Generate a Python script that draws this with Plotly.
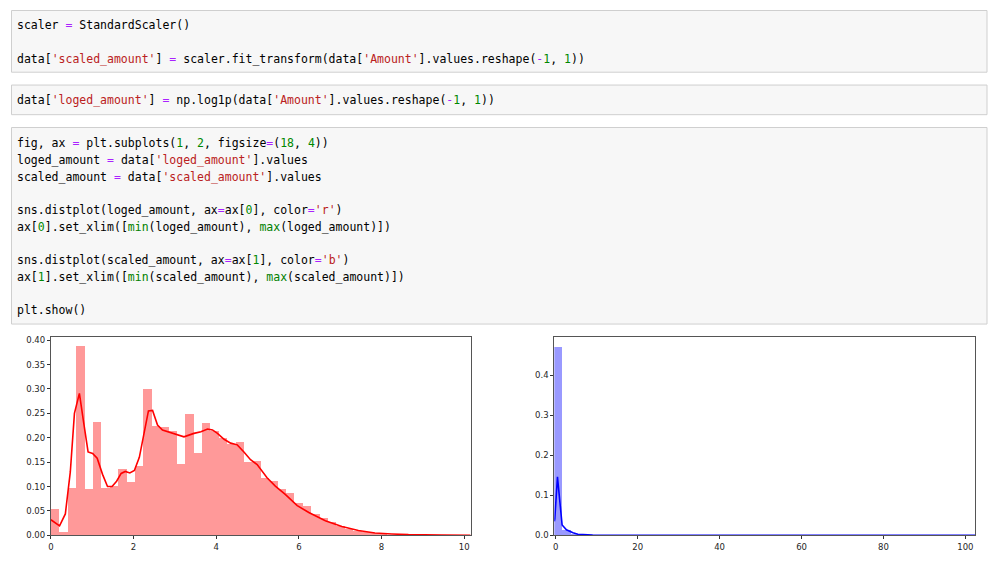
import numpy as np
import plotly.graph_objects as go

# The page body has an 8px margin, so the figure is sized to fit the window inside it.
OFF = 8
W, H = 997 - 2 * OFF, 579 - 2 * OFF

# ---------------- data ----------------
log_min, log_max = 0.0, 10.154
log_hist_density = [0.054, 0.007, 0.098, 0.388, 0.096, 0.233, 0.098, 0.102, 0.137, 0.109,
                    0.143, 0.300, 0.225, 0.222, 0.215, 0.146, 0.249, 0.170, 0.230, 0.215,
                    0.199, 0.187, 0.191, 0.150, 0.153, 0.118, 0.112, 0.095, 0.088, 0.066,
                    0.060, 0.045, 0.036, 0.027, 0.020, 0.014, 0.010, 0.007, 0.005, 0.003,
                    0.002, 0.0015, 0.001, 0.0006, 0.0004, 0.0002, 0.0001, 0.00005, 0.0, 0.00005]
log_kde_x = [0, 0.09, 0.21, 0.35, 0.47, 0.57, 0.69, 0.79, 0.90, 1.01, 1.12, 1.25, 1.37, 1.48,
             1.59, 1.70, 1.80, 1.91, 2.02, 2.14, 2.26, 2.36, 2.46, 2.58, 2.70, 2.82, 2.98,
             3.22, 3.46, 3.63, 3.79, 3.91, 4.03, 4.19, 4.35, 4.51, 4.67, 4.83, 4.99, 5.23,
             5.43, 5.67, 5.96, 6.24, 6.64, 7.04, 7.44, 7.84, 8.25, 8.65, 9.45, 10.154]
log_kde_y = [0.032, 0.027, 0.0196, 0.044, 0.13, 0.25, 0.291, 0.233, 0.171, 0.168, 0.158,
             0.125, 0.100, 0.100, 0.111, 0.127, 0.131, 0.128, 0.133, 0.160, 0.212, 0.255,
             0.256, 0.226, 0.216, 0.2125, 0.208, 0.202, 0.209, 0.2125, 0.218, 0.216, 0.209,
             0.197, 0.189, 0.1855, 0.171, 0.155, 0.145, 0.118, 0.101, 0.084, 0.061, 0.047,
             0.030, 0.018, 0.010, 0.005, 0.003, 0.0015, 0.0005, 0.0002]

scaled_min, scaled_max = -0.353, 102.36
scaled_hist_density = [0.471, 0.0125, 0.0035, 0.0014, 0.0007, 0.0004, 0.00025, 0.00015, 0.0001, 0.00007,
                       0.00005, 0.00004, 0.00003, 0.00002, 0.00002, 0.00001, 0.00001, 0.00001, 0.0, 0.00001,
                       0.0, 0.0, 0.00001, 0.0, 0.0, 0.0, 0.0, 0.0, 0.0, 0.0,
                       0.0, 0.0, 0.0, 0.0, 0.0, 0.0, 0.0, 0.0, 0.0, 0.0,
                       0.0, 0.0, 0.0, 0.0, 0.0, 0.0, 0.0, 0.0, 0.0, 0.00001]
scaled_kde_x = [-0.353, -0.24, 0.41, 1.55, 2.6, 3.6, 4.2, 5.4, 7.0, 9.0, 12.0, 20.0, 40.0, 60.0, 80.0, 102.36]
scaled_kde_y = [0.035, 0.041, 0.146, 0.026, 0.014, 0.009, 0.0066, 0.003, 0.0015, 0.0008, 0.0004,
                0.0002, 0.0001, 0.00005, 0.00003, 0.00002]

left_xticks = [0, 2, 4, 6, 8, 10]
left_yticks = [0.00, 0.05, 0.10, 0.15, 0.20, 0.25, 0.30, 0.35, 0.40]
right_xticks = [0, 20, 40, 60, 80, 100]
right_yticks = [0.0, 0.1, 0.2, 0.3, 0.4]

# ---------------- code cell text ----------------
def s(t): return '<span style="color:#BA2121">%s</span>' % t
def n(t): return '<span style="color:#008800">%s</span>' % t
def o(t): return '<span style="color:#AA22FF">%s</span>' % t
def b(t): return '<span style="color:#008000">%s</span>' % t

cell1 = ["scaler " + o("=") + " StandardScaler()",
         "",
         "data[" + s("'scaled_amount'") + "] " + o("=") + " scaler.fit_transform(data[" + s("'Amount'")
         + "].values.reshape(" + o("-") + n("1") + ", " + n("1") + "))"]
cell2 = ["data[" + s("'loged_amount'") + "] " + o("=") + " np.log1p(data[" + s("'Amount'")
         + "].values.reshape(" + o("-") + n("1") + ", " + n("1") + "))"]
cell3 = ["fig, ax " + o("=") + " plt.subplots(" + n("1") + ", " + n("2") + ", figsize" + o("=")
         + "(" + n("18") + ", " + n("4") + "))",
         "loged_amount " + o("=") + " data[" + s("'loged_amount'") + "].values",
         "scaled_amount " + o("=") + " data[" + s("'scaled_amount'") + "].values",
         "",
         "sns.distplot(loged_amount, ax" + o("=") + "ax[" + n("0") + "], color" + o("=") + s("'r'") + ")",
         "ax[" + n("0") + "].set_xlim([" + b("min") + "(loged_amount), " + b("max") + "(loged_amount)])",
         "",
         "sns.distplot(scaled_amount, ax" + o("=") + "ax[" + n("1") + "], color" + o("=") + s("'b'") + ")",
         "ax[" + n("1") + "].set_xlim([" + b("min") + "(scaled_amount), " + b("max") + "(scaled_amount)])",
         "",
         "plt.show()"]

# ---------------- layout helpers (screen pixels -> paper fractions) ----------------
def px(x): return (x - OFF) / W
def py(y): return 1 - (y - OFF) / H

# ---------------- figure ----------------
fig = go.Figure()

log_edges = np.linspace(log_min, log_max, len(log_hist_density) + 1)
fig.add_trace(go.Bar(x=(log_edges[:-1] + log_edges[1:]) / 2, y=log_hist_density,
                     width=np.diff(log_edges), marker=dict(color="rgba(255,0,0,0.4)", line=dict(width=0)),
                     xaxis="x", yaxis="y", hoverinfo="skip"))
fig.add_trace(go.Scatter(x=log_kde_x, y=log_kde_y, mode="lines", line=dict(color="#ff0000", width=1.6),
                         xaxis="x", yaxis="y", hoverinfo="skip"))

sc_edges = np.linspace(scaled_min, scaled_max, len(scaled_hist_density) + 1)
fig.add_trace(go.Bar(x=(sc_edges[:-1] + sc_edges[1:]) / 2, y=scaled_hist_density,
                     width=np.diff(sc_edges), marker=dict(color="rgba(0,0,255,0.4)", line=dict(width=0)),
                     xaxis="x2", yaxis="y2", hoverinfo="skip"))
fig.add_trace(go.Scatter(x=scaled_kde_x, y=scaled_kde_y, mode="lines", line=dict(color="#0000ff", width=1.6),
                         xaxis="x2", yaxis="y2", hoverinfo="skip"))

shapes = []
for (y0, y1) in [(8.5, 71), (84, 114), (127, 326)]:
    shapes.append(dict(type="rect", xref="paper", yref="paper", x0=px(8.5), x1=px(987),
                       y0=py(y1), y1=py(y0), fillcolor="#f7f7f7", line=dict(color="#cfcfcf", width=1),
                       layer="below"))

annotations = []
def add_lines(lines, y_first, step=16.95):
    for i, t in enumerate(lines):
        if not t:
            continue
        annotations.append(dict(text=t, xref="paper", yref="paper", x=px(12), y=py(y_first + i * step),
                                xanchor="left", yanchor="middle", showarrow=False, align="left",
                                font=dict(family="DejaVu Sans Mono", size=11.5, color="#000000")))

add_lines(cell1, 23.3)
add_lines(cell2, 99.0)
add_lines(cell3, 142.7)

tickfont = dict(family="DejaVu Sans", size=8.5, color="#262626")
axis_common = dict(showline=True, mirror=True, linecolor="#555555", linewidth=1, showgrid=False,
                   zeroline=False, ticks="outside", ticklen=3, tickcolor="#333333", tickwidth=1,
                   tickfont=tickfont, fixedrange=True)
ydom = [py(540), py(339)]

fig.update_layout(
    width=W, height=H, margin=dict(l=0, r=0, t=0, b=0),
    paper_bgcolor="white", plot_bgcolor="white", showlegend=False, bargap=0,
    shapes=shapes, annotations=annotations,
    xaxis=dict(domain=[px(48), px(469)], range=[log_min, log_max], tickvals=left_xticks,
               anchor="y", **axis_common),
    yaxis=dict(domain=ydom, range=[0, 0.4067], tickvals=left_yticks, tickformat=".2f",
               anchor="x", **axis_common),
    xaxis2=dict(domain=[px(553), px(975)], range=[scaled_min, scaled_max], tickvals=right_xticks,
                anchor="y2", **axis_common),
    yaxis2=dict(domain=ydom, range=[0, 0.4953], tickvals=right_yticks, tickformat=".1f",
                anchor="x2", **axis_common),
)

fig.write_html("out.html", config={"displayModeBar": False})
